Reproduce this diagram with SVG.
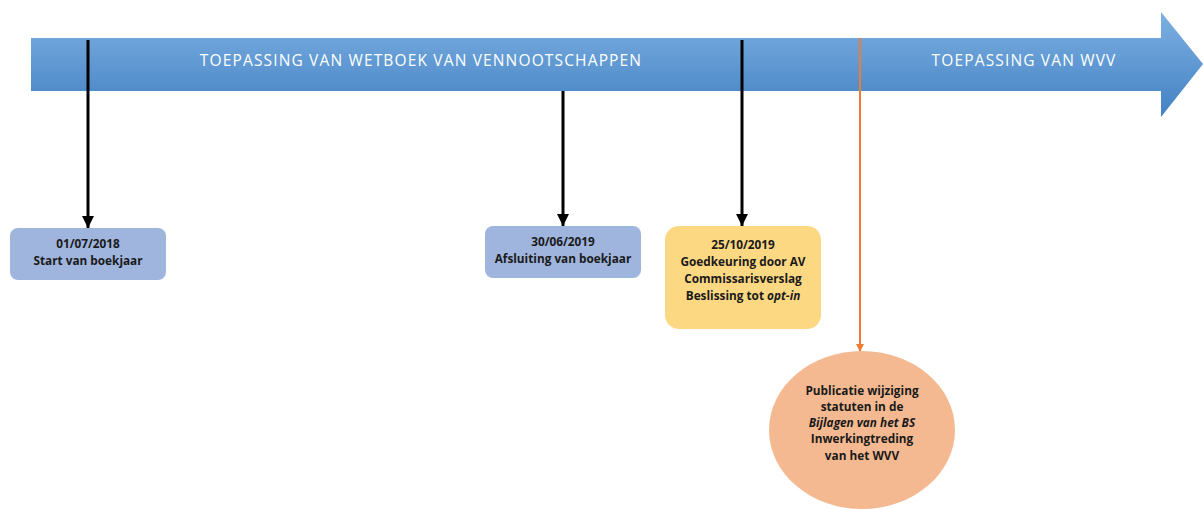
<svg xmlns="http://www.w3.org/2000/svg" width="1203" height="509" viewBox="0 0 1203 509">
<defs>
<linearGradient id="gb" x1="0" y1="0" x2="0" y2="1">
<stop offset="0" stop-color="#7db0e2"/>
<stop offset="1" stop-color="#4281c3"/>
</linearGradient>
<marker id="mk" viewBox="0 0 10 10" refX="10" refY="5" markerWidth="4" markerHeight="4" markerUnits="strokeWidth" orient="auto"><path d="M0,0 L10,5 L0,10 Z" fill="#000"/></marker>
<marker id="mo" viewBox="0 0 10 10" refX="10" refY="5" markerWidth="4" markerHeight="4" markerUnits="strokeWidth" orient="auto"><path d="M0,0 L10,5 L0,10 Z" fill="#ed7d31"/></marker>
</defs>
<style>
.ttl{font-family:"Open Sans","Liberation Sans",sans-serif;font-size:15.5px;fill:#fff;text-anchor:middle;letter-spacing:1.15px}
.lbl{font-family:"Open Sans","Liberation Sans",sans-serif;font-size:11.8px;font-weight:bold;fill:#1a1a1a;text-anchor:middle}
.ln{stroke:#000;stroke-width:3;fill:none}
</style>
<g id="timeline">
<path d="M31,38 L1161,38 L1161,12 L1203,64 L1161,117 L1161,91 L31,91 Z" fill="url(#gb)"/>
<text class="ttl" x="421" y="66">TOEPASSING VAN WETBOEK VAN VENNOOTSCHAPPEN</text>
<text class="ttl" x="1024" y="66">TOEPASSING VAN WVV</text>
</g>
<g id="connectors">
<line class="ln" x1="88" y1="40" x2="88" y2="228" marker-end="url(#mk)"/>
<line class="ln" x1="563" y1="91" x2="563" y2="226" marker-end="url(#mk)"/>
<line class="ln" x1="742" y1="40" x2="742" y2="226" marker-end="url(#mk)"/>
<line x1="860" y1="38" x2="860" y2="352" stroke="#ed7d31" stroke-width="2" marker-end="url(#mo)"/>
</g>
<g id="node1">
<rect x="10" y="228" width="156" height="52" rx="8" fill="#9fb5dd"/>
<text class="lbl" x="88" y="248">01/07/2018</text>
<text class="lbl" x="88" y="265">Start van boekjaar</text>
</g>
<g id="node2">
<rect x="485" y="226" width="156" height="52" rx="8" fill="#9fb5dd"/>
<text class="lbl" x="563" y="246">30/06/2019</text>
<text class="lbl" x="563" y="263">Afsluiting van boekjaar</text>
</g>
<g id="node3">
<rect x="665" y="226" width="156" height="103" rx="14" fill="#fdd882"/>
<text class="lbl" x="743" y="249">25/10/2019</text>
<text class="lbl" x="743" y="266">Goedkeuring door AV</text>
<text class="lbl" x="743" y="283">Commissarisverslag</text>
<text class="lbl" x="743" y="300">Beslissing tot <tspan font-style="italic">opt-in</tspan></text>
</g>
<g id="node4">
<ellipse cx="862" cy="430" rx="93" ry="79" fill="#f4b990"/>
<text class="lbl" x="862" y="395">Publicatie wijziging</text>
<text class="lbl" x="862" y="411">statuten in de</text>
<text class="lbl" x="862" y="427" font-style="italic">Bijlagen van het BS</text>
<text class="lbl" x="862" y="443">Inwerkingtreding</text>
<text class="lbl" x="862" y="460">van het WVV</text>
</g>
</svg>
